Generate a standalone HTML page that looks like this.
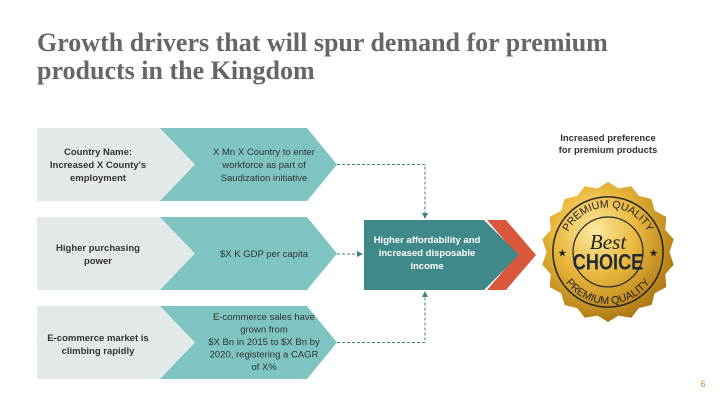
<!DOCTYPE html>
<html><head><meta charset="utf-8"><style>
body{margin:0;width:720px;height:405px;background:#fff;overflow:hidden;position:relative;font-family:"Liberation Sans",sans-serif}
.title{position:absolute;left:37px;top:29px;font-family:"Liberation Serif",serif;font-weight:bold;font-size:26px;line-height:28px;color:#666;letter-spacing:0}
svg{position:absolute;left:0;top:0}
.t{font-family:"Liberation Sans",sans-serif;font-size:9.5px;text-anchor:middle}
</style></head><body>
<div class="title">Growth drivers that will spur demand for premium<br>products in the Kingdom</div>
<svg width="720" height="405" viewBox="0 0 720 405">
<defs>
<radialGradient id="gold" cx="40%" cy="35%" r="70%">
<stop offset="0" stop-color="#fde9a0"/><stop offset="0.45" stop-color="#e9b73c"/><stop offset="1" stop-color="#a8710f"/></radialGradient>
<marker id="ah" markerWidth="6" markerHeight="6" refX="5" refY="3" orient="auto"><path d="M0,0L6,3L0,6z" fill="#3f7f80"/></marker>
<path id="arcTop" d="M-42,0 A42,42 0 0 1 42,0"/>
<path id="arcBot" d="M-49,0 A49,49 0 0 0 49,0"/>
</defs>
<g>
<rect x="37" y="128" width="160" height="73" fill="#e3e8e8"/>
<polygon points="160,128 307,128 337,164.5 307,201 160,201 195,164.5" fill="#7ec4c1"/>
<text class="t" font-weight="bold" fill="#333" x="98"><tspan x="98" y="155">Country Name:</tspan><tspan x="98" y="168">Increased X County's</tspan><tspan x="98" y="181">employment</tspan></text>
<text class="t" fill="#333" x="264"><tspan x="264" y="155">X Mn X Country to enter</tspan><tspan x="264" y="168">workforce as part of</tspan><tspan x="264" y="181">Saudization initiative</tspan></text>
</g>
<g>
<rect x="37" y="217" width="160" height="73" fill="#e3e8e8"/>
<polygon points="160,217 307,217 337,253.5 307,290 160,290 195,253.5" fill="#7ec4c1"/>
<text class="t" font-weight="bold" fill="#333"><tspan x="98" y="251">Higher purchasing</tspan><tspan x="98" y="264">power</tspan></text>
<text class="t" fill="#333"><tspan x="264" y="257">$X K GDP per capita</tspan></text>
</g>
<g>
<rect x="37" y="306" width="160" height="73" fill="#e3e8e8"/>
<polygon points="160,306 307,306 337,342.5 307,379 160,379 195,342.5" fill="#7ec4c1"/>
<text class="t" font-weight="bold" fill="#333"><tspan x="98" y="341">E-commerce market is</tspan><tspan x="98" y="354">climbing rapidly</tspan></text>
<text class="t" fill="#333"><tspan x="264" y="320">E-commerce sales have</tspan><tspan x="264" y="332.5">grown from</tspan><tspan x="264" y="345">$X Bn in 2015 to $X Bn by</tspan><tspan x="264" y="357.5">2020, registering a CAGR</tspan><tspan x="264" y="370">of X%</tspan></text>
</g>
<g stroke="#3f7f80" stroke-width="1" stroke-dasharray="3,2" fill="none">
<path d="M337,164.5H425V218" marker-end="url(#ah)"/>
<path d="M337,254H362" marker-end="url(#ah)"/>
<path d="M337,342.5H425V292" marker-end="url(#ah)"/>
</g>
<g>
<polygon points="487,220 506,220 536,255 506,290 487,290 517,255" fill="#d9573a"/>
<polygon points="364,220 484,220 519,255 484,290 364,290" fill="#3f8a88"/>
<text class="t" font-weight="bold" fill="#fff"><tspan x="427" y="243">Higher affordability and</tspan><tspan x="427" y="256">increased disposable</tspan><tspan x="427" y="269">income</tspan></text>
</g>
<text class="t" font-weight="bold" fill="#333"><tspan x="608" y="141">Increased preference</tspan><tspan x="608" y="153">for premium products</tspan></text>
<g transform="translate(608,252) scale(1.06)">
<path d="M0,-66 L10,-60 22,-62 29,-53 41,-50 44,-39 55,-33 54,-21 62,-12 58,0 62,12 54,21 55,33 44,39 41,50 29,53 22,62 10,60 0,66 -10,60 -22,62 -29,53 -41,50 -44,39 -55,33 -54,21 -62,12 -58,0 -62,-12 -54,-21 -55,-33 -44,-39 -41,-50 -29,-53 -22,-62 -10,-60Z" fill="url(#gold)"/>
<circle r="52" fill="none" stroke="#2a2a2a" stroke-width="1.5"/>
<circle r="33" fill="none" stroke="#2a2a2a" stroke-width="1.2"/>
<text y="-3" text-anchor="middle" font-family="Liberation Serif,serif" font-style="italic" font-size="20" fill="#222">Best</text>
<text y="15" text-anchor="middle" font-family="Liberation Sans,sans-serif" font-weight="bold" font-size="19" fill="#1f2a36" transform="scale(0.9,1.1)">CHOICE</text>
<text font-size="10" fill="#222"><textPath href="#arcTop" startOffset="50%" text-anchor="middle">PREMIUM QUALITY</textPath></text>
<text font-size="10" fill="#222"><textPath href="#arcBot" startOffset="50%" text-anchor="middle">PREMIUM QUALITY</textPath></text>
<text x="-43" y="4" text-anchor="middle" font-size="10" fill="#222">★</text>
<text x="43" y="4" text-anchor="middle" font-size="10" fill="#222">★</text>
</g>
<text x="703" y="387" font-size="9" fill="#e08a3c" text-anchor="middle">6</text>
</svg>
</body></html>
